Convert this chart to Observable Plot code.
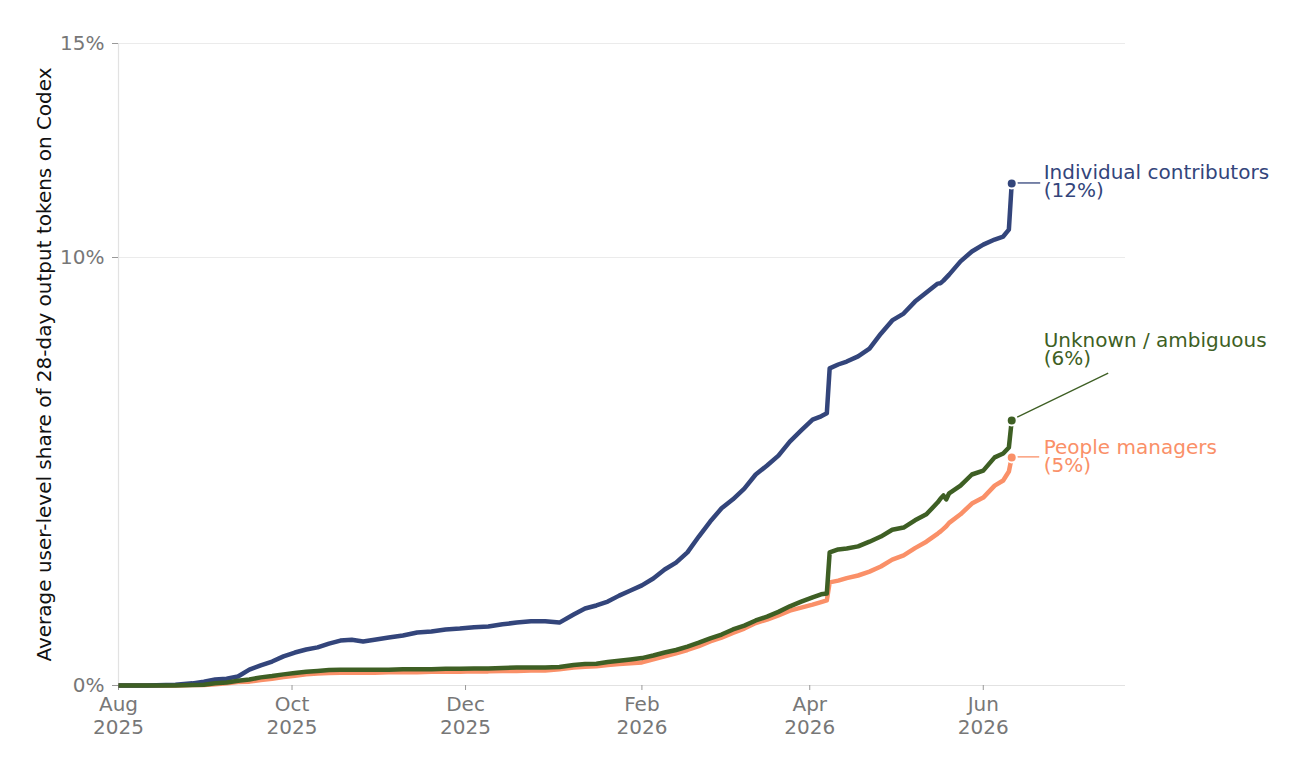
<!DOCTYPE html>
<html>
<head>
<meta charset="utf-8">
<script src="https://cdn.jsdelivr.net/npm/d3@7"></script>
<script src="https://cdn.jsdelivr.net/npm/@observablehq/plot@0.6"></script>
<style>
  html, body { margin: 0; padding: 0; background: #fff; }
  #chart { width: 1297px; height: 771px; }
</style>
</head>
<body>
<div id="chart"></div>
<script>
// ---- Data (values in percent) ----
const dates = [
  "2025-08-01","2025-08-11","2025-08-21","2025-08-27","2025-08-31",
  "2025-09-04","2025-09-08","2025-09-12","2025-09-16","2025-09-20",
  "2025-09-24","2025-09-28","2025-10-02","2025-10-06","2025-10-10",
  "2025-10-14","2025-10-18","2025-10-22","2025-10-26","2025-10-30",
  "2025-11-04","2025-11-09","2025-11-14","2025-11-19","2025-11-24",
  "2025-11-29","2025-12-04","2025-12-09","2025-12-14","2025-12-19",
  "2025-12-24","2025-12-29","2026-01-03","2026-01-08","2026-01-12",
  "2026-01-16","2026-01-20","2026-01-24","2026-01-28","2026-02-01",
  "2026-02-05","2026-02-09","2026-02-13","2026-02-17","2026-02-21",
  "2026-02-25","2026-03-01","2026-03-05","2026-03-09","2026-03-13",
  "2026-03-17","2026-03-21","2026-03-25","2026-03-29","2026-04-02",
  "2026-04-05","2026-04-07","2026-04-08","2026-04-11","2026-04-14",
  "2026-04-18","2026-04-22","2026-04-26","2026-04-30","2026-05-04",
  "2026-05-08","2026-05-12","2026-05-16","2026-05-17","2026-05-18",
  "2026-05-19","2026-05-20","2026-05-24","2026-05-28","2026-06-01",
  "2026-06-05","2026-06-08","2026-06-10","2026-06-11"
];

const individualContributors = [
  0, 0, 0.02, 0.05, 0.09,
  0.14, 0.16, 0.21, 0.37, 0.47,
  0.56, 0.68, 0.77, 0.84, 0.89,
  0.98, 1.05, 1.07, 1.03, 1.07,
  1.12, 1.17, 1.24, 1.26, 1.31,
  1.33, 1.36, 1.38, 1.43, 1.47,
  1.50, 1.50, 1.47, 1.66, 1.80,
  1.87, 1.96, 2.10, 2.22, 2.34,
  2.50, 2.71, 2.87, 3.11, 3.48,
  3.83, 4.14, 4.35, 4.60, 4.93,
  5.14, 5.37, 5.70, 5.96, 6.21,
  6.29, 6.36, 7.41, 7.50, 7.57,
  7.69, 7.87, 8.22, 8.53, 8.69,
  8.97, 9.18, 9.39, 9.40, 9.46,
  9.53, 9.60, 9.91, 10.14, 10.30,
  10.42, 10.49, 10.65, 11.73
];

const unknownAmbiguous = [
  0, 0, 0, 0.01, 0.02,
  0.05, 0.07, 0.11, 0.14, 0.19,
  0.22, 0.26, 0.29, 0.32, 0.34,
  0.36, 0.37, 0.37, 0.37, 0.37,
  0.37, 0.38, 0.38, 0.38, 0.39,
  0.39, 0.40, 0.40, 0.41, 0.42,
  0.42, 0.42, 0.43, 0.48, 0.50,
  0.51, 0.55, 0.58, 0.61, 0.64,
  0.70, 0.77, 0.83, 0.91, 1.00,
  1.10, 1.19, 1.31, 1.40, 1.52,
  1.61, 1.72, 1.85, 1.96, 2.06,
  2.13, 2.15, 3.11, 3.18, 3.20,
  3.25, 3.36, 3.48, 3.64, 3.69,
  3.86, 4.00, 4.28, 4.37, 4.44,
  4.35, 4.49, 4.67, 4.93, 5.02,
  5.33, 5.42, 5.56, 6.19
];

const peopleManagers = [
  0, 0, 0, 0.01, 0.01,
  0.03, 0.05, 0.08, 0.09, 0.13,
  0.16, 0.20, 0.23, 0.26, 0.28,
  0.29, 0.30, 0.30, 0.30, 0.30,
  0.31, 0.31, 0.31, 0.32, 0.32,
  0.32, 0.33, 0.33, 0.34, 0.34,
  0.35, 0.35, 0.38, 0.42, 0.44,
  0.45, 0.48, 0.50, 0.52, 0.54,
  0.61, 0.68, 0.75, 0.83, 0.92,
  1.03, 1.12, 1.23, 1.33, 1.46,
  1.54, 1.64, 1.75, 1.82, 1.89,
  1.95, 1.99, 2.41, 2.45, 2.51,
  2.57, 2.66, 2.78, 2.94, 3.04,
  3.21, 3.36, 3.55, 3.60, 3.66,
  3.72, 3.80, 4.00, 4.25, 4.39,
  4.67, 4.79, 5.00, 5.33
];

const seriesNames = ["Individual contributors", "Unknown / ambiguous", "People managers"];
const seriesColors = ["#33457b", "#3e5f24", "#fa9068"];
const endLabels = ["Individual contributors\n(12%)", "Unknown / ambiguous\n(6%)", "People managers\n(5%)"];
const xDomain = ["2025-08-01", "2026-07-21"];
const xTicks = ["2025-08-01", "2025-10-01", "2025-12-01", "2026-02-01", "2026-04-01", "2026-06-01"];
const yTicks = [0, 10, 15];
const yLabel = "Average user-level share of 28-day output tokens on Codex";

// ---- Styling (pixel offsets for end labels / leader lines) ----
const labelStyle = {
  "Individual contributors": {dx: 32, dy: -1.5, leader: [[6, 0], [29, 0]]},
  "Unknown / ambiguous":     {dx: 32, dy: -70.5, leader: [[6, -3], [97, -47]]},
  "People managers":         {dx: 32, dy: -0.5, leader: [[6, 0], [28, 0]]}
};

// ---- Build tables ----
const parse = d3.utcParse("%Y-%m-%d");
const valuesBySeries = {
  "Individual contributors": individualContributors,
  "Unknown / ambiguous": unknownAmbiguous,
  "People managers": peopleManagers
};
const drawOrder = ["People managers", "Individual contributors", "Unknown / ambiguous"];
const rows = drawOrder.flatMap(s => dates.map((d, j) => ({series: s, date: parse(d), value: valuesBySeries[s][j]})));
const last = dates.length - 1;
const ends = seriesNames.map((s, i) => ({
  series: s, date: parse(dates[last]), value: valuesBySeries[s][last], label: endLabels[i]
}));

const grey = "#777777";
const fontFamily = "DejaVu Sans, sans-serif";

// leader lines drawn through the plot's scales
function leaderMark(index, scales) {
  const g = d3.create("svg:g");
  for (const e of ends) {
    const cx = scales.x(e.date), cy = scales.y(e.value);
    const [[ax, ay], [bx, by]] = labelStyle[e.series].leader;
    g.append("line")
      .attr("x1", cx + ax).attr("y1", cy + ay)
      .attr("x2", cx + bx).attr("y2", cy + by)
      .attr("stroke", seriesColors[seriesNames.indexOf(e.series)])
      .attr("stroke-width", 1.3);
  }
  return g.node();
}

const chart = Plot.plot({
  width: 1297,
  height: 771,
  marginTop: 43,
  marginRight: 172,
  marginBottom: 86,
  marginLeft: 118,
  style: {fontFamily, fontSize: "20px", background: "#fff", overflow: "visible"},
  x: {type: "utc", domain: xDomain.map(parse)},
  y: {domain: [0, 15]},
  color: {domain: seriesNames, range: seriesColors},
  marks: [
    Plot.ruleY(yTicks.filter(t => t > 0), {stroke: "#ebebeb", strokeWidth: 1.2}),
    Plot.ruleY([0], {stroke: "#e2e2e2", strokeWidth: 1.2}),
    Plot.ruleX([parse(xDomain[0])], {stroke: "#e2e2e2", strokeWidth: 1.2}),
    Plot.axisY({
      ticks: yTicks, tickFormat: d => d + "%", tickSize: 6, tickPadding: 8,
      stroke: "#999", fill: grey, fontSize: 20, label: null
    }),
    Plot.axisX({
      ticks: xTicks.map(parse), tickFormat: d3.utcFormat("%b\n%Y"), tickSize: 5, tickPadding: 4,
      stroke: "#999", fill: grey, fontSize: 20, lineHeight: 1.16, label: null
    }),
    Plot.text([yLabel], {
      frameAnchor: "left", rotate: -90, dx: -74, text: d => d,
      fill: "#111", fontSize: 20, textAnchor: "middle", lineAnchor: "middle"
    }),
    Plot.line(rows, {
      x: "date", y: "value", z: "series", stroke: "series",
      strokeWidth: 4.5, strokeLinejoin: "round", strokeLinecap: "butt"
    }),
    leaderMark,
    Plot.dot(ends, {x: "date", y: "value", fill: "series", r: 5, stroke: "white", strokeWidth: 2}),
    ...seriesNames.map(s => Plot.text(ends.filter(e => e.series === s), {
      x: "date", y: "value", text: "label", fill: "series",
      textAnchor: "start", lineAnchor: "middle", lineHeight: 0.92, fontSize: 20,
      dx: labelStyle[s].dx, dy: labelStyle[s].dy
    }))
  ]
});

document.getElementById("chart").appendChild(chart);
</script>
</body>
</html>
